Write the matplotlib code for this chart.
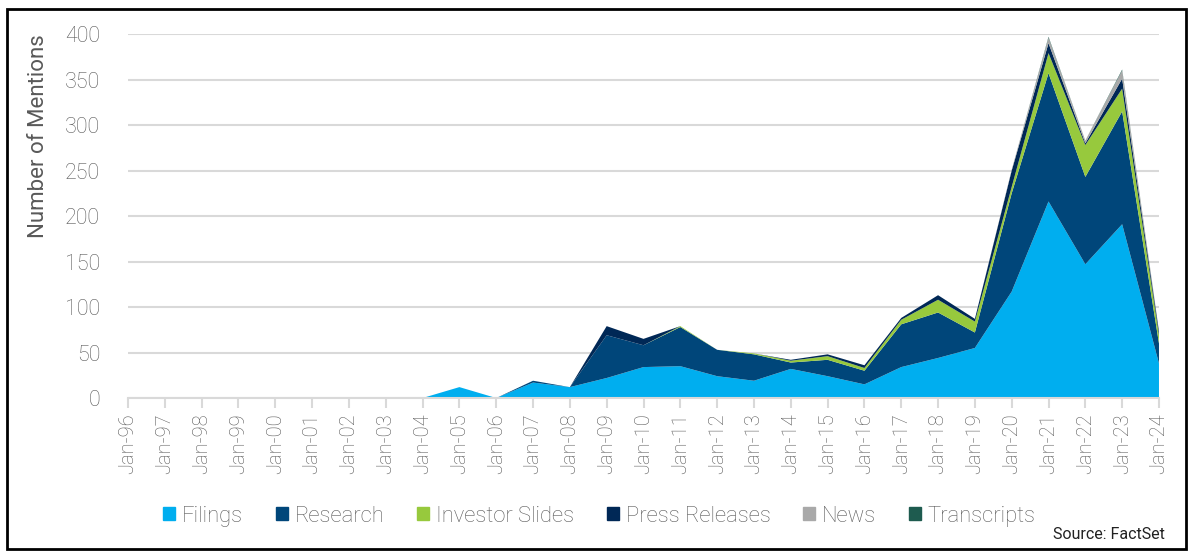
import matplotlib.pyplot as plt
import matplotlib.patches as patches

plt.rcParams['font.family'] = ['Roboto', 'DejaVu Sans']
plt.rcParams['font.weight'] = 'light'

years = ['Jan-96', 'Jan-97', 'Jan-98', 'Jan-99', 'Jan-00', 'Jan-01', 'Jan-02', 'Jan-03',
         'Jan-04', 'Jan-05', 'Jan-06', 'Jan-07', 'Jan-08', 'Jan-09', 'Jan-10', 'Jan-11',
         'Jan-12', 'Jan-13', 'Jan-14', 'Jan-15', 'Jan-16', 'Jan-17', 'Jan-18', 'Jan-19',
         'Jan-20', 'Jan-21', 'Jan-22', 'Jan-23', 'Jan-24']

filings = [0, 0, 0, 0, 0, 0, 0, 0, 0, 12, 0, 17, 12, 22, 34, 35, 24, 19, 32, 24, 15, 34, 44, 55, 117, 216, 147, 191, 38]
research = [0, 0, 0, 0, 0, 0, 0, 0, 0, 0, 0, 2, 0, 47, 24, 43, 29, 29, 7, 18, 15, 47, 50, 17, 108, 141, 96, 124, 22]
investor_slides = [0, 0, 0, 0, 0, 0, 0, 0, 0, 0, 0, 0, 0, 0, 0, 1, 0, 1, 2, 4, 3, 5, 14, 12, 7, 22, 35, 25, 9]
press_releases = [0, 0, 0, 0, 0, 0, 0, 0, 0, 0, 0, 0, 0, 10, 7, 0, 0, 0, 1, 2, 3, 2, 5, 3, 18, 11, 2, 11, 4]
news = [0, 0, 0, 0, 0, 0, 0, 0, 0, 0, 0, 0, 0, 0, 0, 0, 0, 0, 0, 0, 0, 0, 0, 0, 1, 6, 3, 9, 1]
transcripts = [0, 0, 0, 0, 0, 0, 0, 0, 0, 0, 0, 0, 0, 0, 0, 0, 0, 0, 0, 0, 0, 0, 0, 0, 0, 1, 0, 1, 0]

labels = ['Filings', 'Research', 'Investor Slides', 'Press Releases', 'News', 'Transcripts']
colors = ['#00AEEF', '#00467A', '#97C93D', '#002856', '#A9A9A9', '#1E5B4F']
textColor = '#595959'

fig = plt.figure(figsize=(11.92, 5.58), dpi=100)
ax = fig.add_axes([0.1074, 0.2867, 0.8649, 0.6523])

x = list(range(len(years)))
ax.stackplot(x, filings, research, investor_slides, press_releases, news, transcripts,
             colors=colors, labels=labels, linewidth=0, zorder=3)

ax.set_xlim(0, len(years) - 1)
ax.set_ylim(0, 400)
ax.set_yticks(range(0, 401, 50))
ax.set_xticks(x)
ax.set_xticklabels(years, rotation=90, fontsize=14.5, color=textColor)
ax.tick_params(axis='y', length=0, pad=20, labelsize=15.5, labelcolor=textColor)
ax.tick_params(axis='x', length=7, width=1.5, color='#D9D9D9', pad=4)
ax.grid(axis='y', color='#D9D9D9', linewidth=1.5, zorder=0)
ax.set_axisbelow(True)
for side in ['top', 'right', 'left']:
    ax.spines[side].set_visible(False)
ax.spines['bottom'].set_color('#D9D9D9')
ax.spines['bottom'].set_linewidth(1.5)
ax.spines['bottom'].set_zorder(4)
ax.set_ylabel('Number of Mentions', fontsize=16, color=textColor)
ax.yaxis.set_label_coords(-0.077, 0.72)

handles = [patches.Patch(color=c) for c in colors]
fig.legend(handles, labels, loc='center', bbox_to_anchor=(0.503, 0.075), ncol=6,
           frameon=False, fontsize=15.8, handlelength=0.55, handleheight=0.55,
           handletextpad=0.3, columnspacing=1.5, labelcolor=textColor)

fig.text(0.977, 0.043, 'Source: FactSet', ha='right', va='center', fontsize=11.5,
         fontweight='normal', color='#222222')

fig.patches.append(patches.Rectangle((0.006, 0.016), 0.989, 0.968, transform=fig.transFigure,
                                     fill=False, edgecolor='black', linewidth=2))

fig.savefig('out.png', dpi=100)
